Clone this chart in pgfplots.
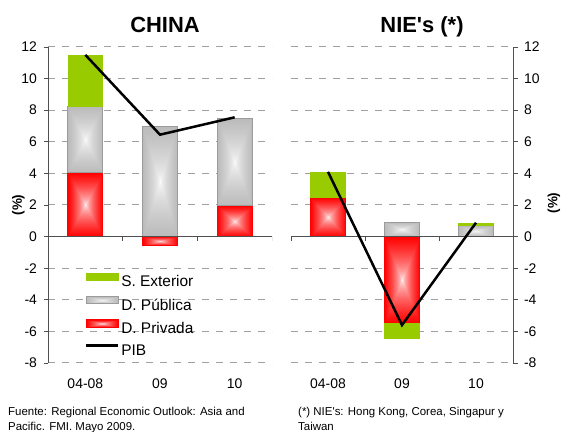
\documentclass[border=0pt]{standalone}
\usepackage{fontspec}
\setmainfont{Liberation Sans}[Ligatures=TeXOff]
\usepackage{pgfplots}
\pgfplotsset{compat=1.18}

\definecolor{exgreen}{RGB}{153,204,0}
\definecolor{gridgray}{RGB}{160,160,160}
\definecolor{bargray}{RGB}{155,155,155}
\definecolor{axgray}{RGB}{80,80,80}

\pgfdeclarefunctionalshading{redrect}{\pgfpoint{-50bp}{-50bp}}{\pgfpoint{50bp}{50bp}}{}{
  abs exch abs 2 copy lt {exch} if pop 25 div dup 1 gt {pop 1} if
  0.6 exp 1 exch sub dup 1 3 1 roll
}
\pgfdeclarefunctionalshading{grayrect}{\pgfpoint{-50bp}{-50bp}}{\pgfpoint{50bp}{50bp}}{}{
  abs exch abs 2 copy lt {exch} if pop 25 div dup 1 gt {pop 1} if
  0.6 exp 0.27 mul 1 exch sub dup dup
}

\tikzset{
  ext/.style={fill=exgreen, draw=none, mark=none},
  pub/.style={draw=bargray, line width=0.9bp, shade, shading=grayrect, mark=none},
  pri/.style={draw=red, line width=0.9bp, shade, shading=redrect, mark=none},
}

\pgfplotsset{
  panel/.style={
    scale only axis, width=224bp, height=316bp,
    xmin=0, xmax=3, ymin=-8, ymax=12,
    axis x line*=bottom,
    x axis line style={draw=none},
    xtick={0.5,1.5,2.5}, xticklabels={04-08,09,10},
    xtick style={draw=none},
    xticklabel style={yshift=-8bp},
    ytick={-8,-6,...,12},
    tick align=outside, major tick length=4.5bp,
    ytick style={axgray, line width=0.8bp},
    y axis line style={axgray, line width=0.8bp},
    ymajorgrids,
    major grid style={gridgray, line width=1bp, dash pattern=on 7bp off 7bp},
    /pgf/number format/assume math mode=true,
    tick label style={font=\fontsize{14}{16}\selectfont},
  }
}

\begin{document}
\begin{tikzpicture}
\path[use as bounding box] (0,0) rectangle (563bp,432bp);

% ---------------- CHINA ----------------
\begin{axis}[panel, at={(48bp,69bp)}, anchor=south west,
  axis y line*=left,
  yticklabel style={xshift=-3bp},
  legend style={at={(0.15,0.292)}, anchor=north west, draw=none, fill=none,
    font=\fontsize{15.5}{18}\selectfont, row sep=5.5bp},
  legend cell align=left,
]
\addlegendimage{legend image code/.code={\fill[exgreen] (0bp,1.5bp) rectangle (32bp,9bp);}}
\addlegendentry{S. Exterior}
\addlegendimage{legend image code/.code={\path[draw=bargray, line width=0.9bp, shade, shading=grayrect] (0bp,1.5bp) rectangle (32bp,9bp);}}
\addlegendentry{D. Pública}
\addlegendimage{legend image code/.code={\path[draw=red, line width=0.9bp, shade, shading=redrect] (0bp,1.5bp) rectangle (32bp,9bp);}}
\addlegendentry{D. Privada}
\addlegendimage{legend image code/.code={\draw[black, line width=2.5bp] (0bp,5bp) -- (32bp,5bp);}}
\addlegendentry{PIB}

% 04-08
\addplot[pri, forget plot] coordinates {(0.265,0) (0.735,0) (0.735,4.05) (0.265,4.05)} -- cycle;
\addplot[pub, forget plot] coordinates {(0.265,4.05) (0.735,4.05) (0.735,8.23) (0.265,8.23)} -- cycle;
\addplot[ext, forget plot] coordinates {(0.265,8.23) (0.735,8.23) (0.735,11.5) (0.265,11.5)} -- cycle;
% 09
\addplot[pri, forget plot] coordinates {(1.265,0) (1.735,0) (1.735,-0.57) (1.265,-0.57)} -- cycle;
\addplot[pub, forget plot] coordinates {(1.265,0) (1.735,0) (1.735,6.97) (1.265,6.97)} -- cycle;
% 10
\addplot[pri, forget plot] coordinates {(2.265,0) (2.735,0) (2.735,1.94) (2.265,1.94)} -- cycle;
\addplot[pub, forget plot] coordinates {(2.265,1.94) (2.735,1.94) (2.735,7.5) (2.265,7.5)} -- cycle;

% zero line
\addplot[axgray, line width=0.8bp, mark=none, forget plot] coordinates {(0,0) (3,0)};
\pgfplotsinvokeforeach{0,1,2,3}{\draw[axgray, line width=0.8bp] (axis cs:#1,0) -- ++(0bp,-4.5bp);}

% PIB
\addplot[black, line width=2.5bp, mark=none, forget plot] coordinates {(0.5,11.5) (1.5,6.45) (2.5,7.55)};
\end{axis}

% ---------------- NIE's ----------------
\begin{axis}[panel, at={(291bp,69bp)}, anchor=south west, width=222bp,
  axis y line*=right,
  yticklabel style={xshift=3bp},
]
% 04-08
\addplot[pri] coordinates {(0.26,0) (0.74,0) (0.74,2.47) (0.26,2.47)} -- cycle;
\addplot[ext] coordinates {(0.26,2.47) (0.74,2.47) (0.74,4.12) (0.26,4.12)} -- cycle;
% 09
\addplot[pri] coordinates {(1.26,0) (1.74,0) (1.74,-5.47) (1.26,-5.47)} -- cycle;
\addplot[ext] coordinates {(1.26,-5.47) (1.74,-5.47) (1.74,-6.5) (1.26,-6.5)} -- cycle;
\addplot[pub] coordinates {(1.26,0) (1.74,0) (1.74,0.91) (1.26,0.91)} -- cycle;
% 10
\addplot[pub] coordinates {(2.26,0) (2.74,0) (2.74,0.68) (2.26,0.68)} -- cycle;
\addplot[ext] coordinates {(2.26,0.68) (2.74,0.68) (2.74,0.85) (2.26,0.85)} -- cycle;

% zero line
\addplot[axgray, line width=0.8bp, mark=none] coordinates {(0,0) (3,0)};
\pgfplotsinvokeforeach{0,1,2,3}{\draw[axgray, line width=0.8bp] (axis cs:#1,0) -- ++(0bp,-4.5bp);}

% PIB
\addplot[black, line width=2.5bp, mark=none] coordinates {(0.5,4.1) (1.5,-5.6) (2.5,0.88)};
\end{axis}

% titles and labels
\node[anchor=base, font=\bfseries\fontsize{22}{26}\selectfont, inner sep=0] at (165bp,399bp) {CHINA};
\node[anchor=base, font=\bfseries\fontsize{22}{26}\selectfont, inner sep=0] at (422bp,399bp) {NIE's (*)};
\node[rotate=90, font=\bfseries\fontsize{13.5}{16}\selectfont, inner sep=0] at (18.5bp,227bp) {(\%)};
\node[rotate=90, font=\bfseries\fontsize{13.5}{16}\selectfont, inner sep=0] at (554bp,229bp) {(\%)};

% footnotes
\node[anchor=base west, font=\fontsize{11.5}{14}\selectfont, inner sep=0] at (8bp,16.5bp) {Fuente: Regional Economic Outlook: Asia and};
\node[anchor=base west, font=\fontsize{11.5}{14}\selectfont, inner sep=0] at (8bp,2bp) {Pacific. FMI. Mayo 2009.};
\node[anchor=base west, font=\fontsize{11.5}{14}\selectfont, inner sep=0] at (298bp,16.5bp) {(*) NIE's: Hong Kong, Corea, Singapur y};
\node[anchor=base west, font=\fontsize{11.5}{14}\selectfont, inner sep=0] at (298bp,2bp) {Taiwan};
\end{tikzpicture}
\end{document}
